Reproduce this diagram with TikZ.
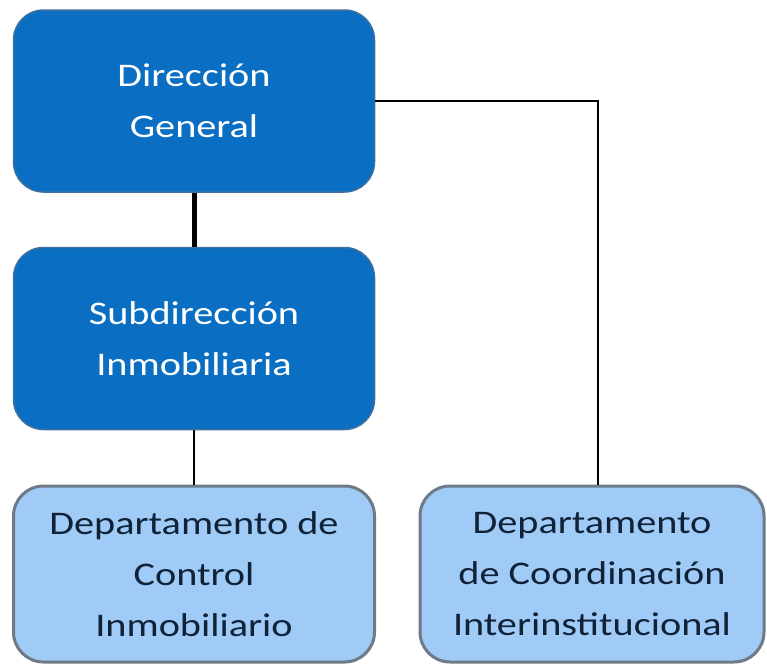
\documentclass[tikz,border=0pt]{standalone}
\usepackage{fontspec}
\usepackage{graphicx}
\usepackage{xcolor}
\setmainfont{Carlito}
\definecolor{darkbox}{HTML}{0A6FC2}
\definecolor{darkedge}{HTML}{3F6F9C}
\definecolor{lightbox}{HTML}{9FCBF6}
\definecolor{lightedge}{HTML}{6E7A86}
\definecolor{navytext}{HTML}{102238}
\newcommand{\widetxt}[1]{\scalebox{1.22}[1]{#1}}

\begin{document}
\begin{tikzpicture}[x=1pt, y=-1pt,
        unit/.style={rounded corners=30pt, minimum width=361pt, minimum height=182pt,
            inner sep=0pt, align=center, font=\fontsize{33}{51}\selectfont},
        head/.style={unit, fill=darkbox, draw=darkedge, line width=1.5pt, text=white},
        dept/.style={unit, fill=lightbox, draw=lightedge, line width=3pt, text=navytext,
            minimum height=176pt},
    ]
    \useasboundingbox (0,0) rectangle (767,664);
    % boxes
    \node[head] (dg) at (194,101) {\widetxt{Dirección}\\\widetxt{General}};
    \node[head] (sub) at (194,338.5) {\widetxt{Subdirección}\\\widetxt{Inmobiliaria}};
    \node[dept] (dci) at (194,574) {\widetxt{Departamento de}\\\widetxt{Control}\\\widetxt{Inmobiliario}};
    \node[dept, minimum width=344pt] (dcoord) at (592,574) {\widetxt{Departamento}\\\widetxt{de Coordinación}\\\widetxt{Interinstitucional}};
    % lines
    \draw[line width=5pt] (dg.south) -- (sub.north);
    \draw[line width=1.5pt] (sub.south) -- (dci.north);
    \draw[line width=1.5pt] (dg.east) -| ([xshift=6pt]dcoord.north);
\end{tikzpicture}
\end{document}
